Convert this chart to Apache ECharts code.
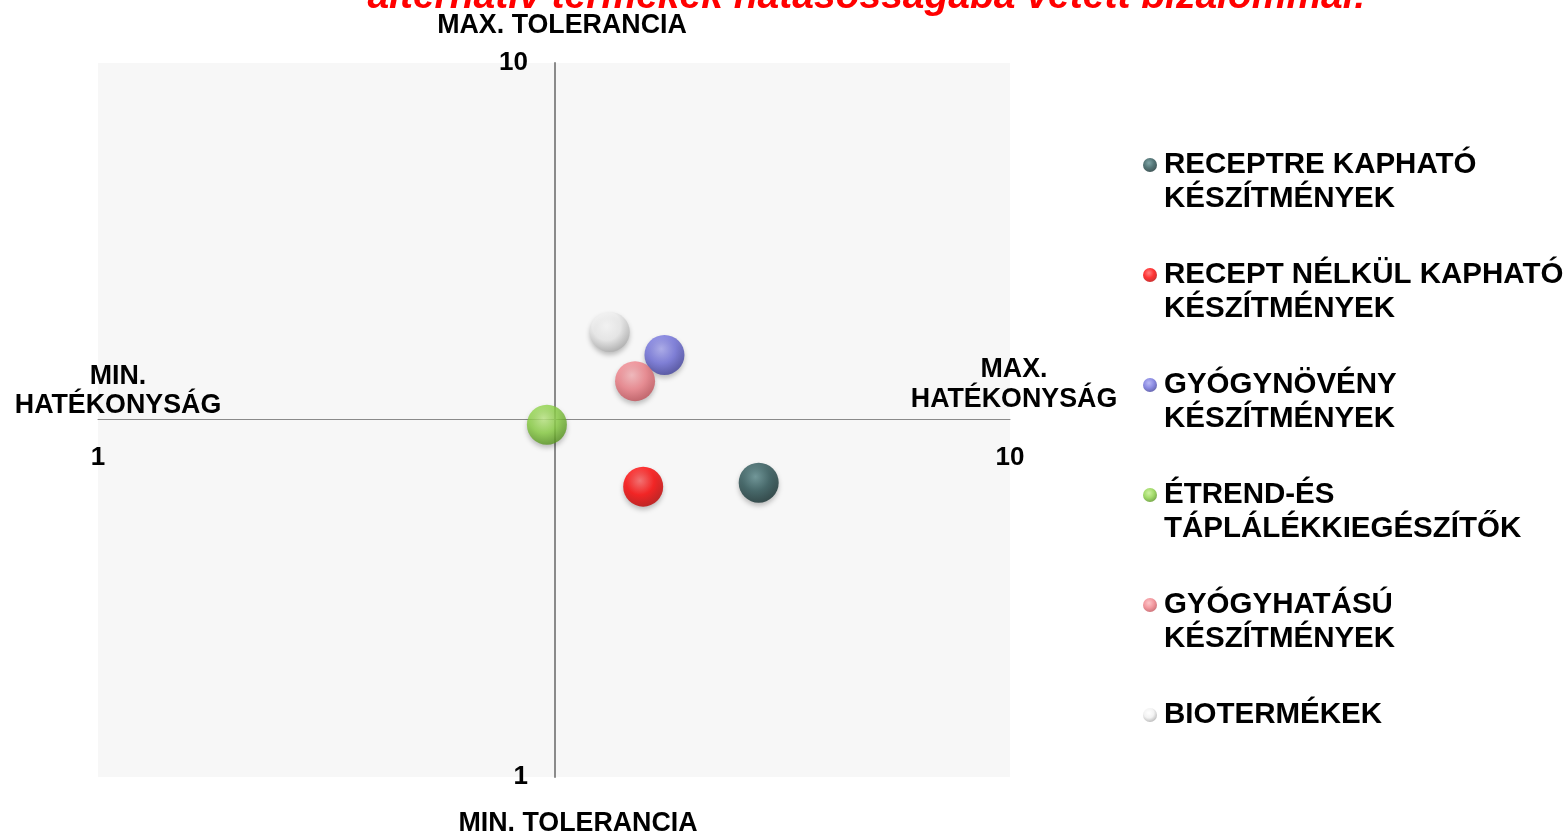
<!DOCTYPE html>
<html>
<head>
<meta charset="utf-8">
<script src="https://cdn.jsdelivr.net/npm/echarts@6/dist/echarts.min.js"></script>
<style>
html, body { margin: 0; padding: 0; background: #fff; }
#main { width: 1566px; height: 834px; }
</style>
</head>
<body>
<div id="main"></div>
<script>
var categories = [
	'RECEPTRE KAPHATÓ KÉSZÍTMÉNYEK',
	'RECEPT NÉLKÜL KAPHATÓ KÉSZÍTMÉNYEK',
	'GYÓGYNÖVÉNY KÉSZÍTMÉNYEK',
	'ÉTREND-ÉS TÁPLÁLÉKKIEGÉSZÍTŐK',
	'GYÓGYHATÁSÚ KÉSZÍTMÉNYEK',
	'BIOTERMÉKEK'
];
// legend lines as shown in the picture
var legendLines = {
	'RECEPTRE KAPHATÓ KÉSZÍTMÉNYEK': ['RECEPTRE KAPHATÓ', 'KÉSZÍTMÉNYEK'],
	'RECEPT NÉLKÜL KAPHATÓ KÉSZÍTMÉNYEK': ['RECEPT NÉLKÜL KAPHATÓ', 'KÉSZÍTMÉNYEK'],
	'GYÓGYNÖVÉNY KÉSZÍTMÉNYEK': ['GYÓGYNÖVÉNY', 'KÉSZÍTMÉNYEK'],
	'ÉTREND-ÉS TÁPLÁLÉKKIEGÉSZÍTŐK': ['ÉTREND-ÉS', 'TÁPLÁLÉKKIEGÉSZÍTŐK'],
	'GYÓGYHATÁSÚ KÉSZÍTMÉNYEK': ['GYÓGYHATÁSÚ', 'KÉSZÍTMÉNYEK'],
	'BIOTERMÉKEK': ['BIOTERMÉKEK', '']
};
// hatékonyság (x) and tolerancia (y), scale 1-10
var hatekonysag = [7.52, 6.38, 6.59, 5.43, 6.30, 6.05];
var tolerancia = [4.71, 4.66, 6.32, 5.44, 5.99, 6.61];
var xTickLabels = [1, 10];
var yTickLabels = [1, 10];
var titleText = 'alternatív termékek hatásosságába vetett bizalommal!';

// [highlight, base, edge]
var colors = [
	['#5f8e90', '#2a5355', '#143031'],
	['#ff6060', '#ff0000', '#c00000'],
	['#a8a8f2', '#7070dc', '#4444a0'],
	['#c2ee8a', '#8cd245', '#5a9822'],
	['#fbb8bc', '#f08088', '#c4545c'],
	['#ffffff', '#efefef', '#b0b0b0']
];

function ball(c) {
	return {
		type: 'radial', x: 0.42, y: 0.35, r: 0.65,
		colorStops: [
			{offset: 0, color: c[0]},
			{offset: 0.55, color: c[1]},
			{offset: 1, color: c[2]}
		]
	};
}

var series = categories.map(function (name, i) {
	return {
		name: name,
		type: 'scatter',
		symbolSize: 40,
		data: [[hatekonysag[i], tolerancia[i]]],
		itemStyle: {
			color: ball(colors[i]),
			shadowBlur: 5,
			shadowOffsetY: 3,
			shadowColor: 'rgba(0,0,0,0.3)'
		}
	};
});

var labelFont = {fontFamily: 'Liberation Sans', fontWeight: 'bold', fontSize: 26.8, fill: '#000'};
function note(text, x, y) {
	return {
		type: 'text', x: x, y: y,
		style: Object.assign({text: text, textAlign: 'center', textVerticalAlign: 'middle'}, labelFont)
	};
}

var myChart = echarts.init(document.getElementById('main'));
var option = {
	backgroundColor: '#fff',
	animation: false,
	title: {
		text: titleText,
		left: 862,
		textAlign: 'center',
		top: -27,
		textStyle: {
			color: '#ff0000',
			fontFamily: 'Liberation Sans',
			fontWeight: 'bold',
			fontStyle: 'italic',
			fontSize: 39
		}
	},
	legend: {
		orient: 'vertical',
		left: 1143,
		top: 114,
		padding: 0,
		itemGap: 8,
		itemWidth: 18,
		itemHeight: 14,
		icon: 'circle',
		data: categories,
		formatter: function (name) {
			var l = legendLines[name];
			return '\n' + l[0] + '\n' + l[1];
		},
		textStyle: {
			color: '#000',
			fontFamily: 'Liberation Sans',
			fontWeight: 'bold',
			fontSize: 29.5,
			lineHeight: 34
		}
	},
	grid: {
		left: 98,
		right: 556,
		top: 63,
		bottom: 57,
		show: true,
		backgroundColor: '#f7f7f7',
		borderWidth: 0
	},
	xAxis: {
		type: 'value',
		min: 1,
		max: 10,
		interval: 1,
		offset: -358,
		axisLine: {onZero: false, lineStyle: {color: '#8a8a8a', width: 1}},
		axisTick: {show: false},
		splitLine: {show: false},
		axisLabel: {
			margin: 26,
			color: '#000',
			fontFamily: 'Liberation Sans',
			fontWeight: 'bold',
			fontSize: 26,
			formatter: function (v) { return xTickLabels.indexOf(v) >= 0 ? String(v) : ''; }
		}
	},
	yAxis: {
		type: 'value',
		min: 1,
		max: 10,
		interval: 1,
		offset: -457,
		axisLine: {onZero: false, lineStyle: {color: '#8a8a8a', width: 2}},
		axisTick: {show: false},
		splitLine: {show: false},
		axisLabel: {
			margin: 27,
			padding: [4, 0, 0, 0],
			color: '#000',
			fontFamily: 'Liberation Sans',
			fontWeight: 'bold',
			fontSize: 26,
			formatter: function (v) { return yTickLabels.indexOf(v) >= 0 ? String(v) : ''; }
		}
	},
	graphic: [
		note('MAX. TOLERANCIA', 562, 26),
		note('MIN. TOLERANCIA', 578, 824),
		note('MIN.', 118, 377),
		note('HATÉKONYSÁG', 118, 406),
		note('MAX.', 1014, 370),
		note('HATÉKONYSÁG', 1014, 400)
	],
	series: series
};
myChart.setOption(option);
</script>
</body>
</html>
